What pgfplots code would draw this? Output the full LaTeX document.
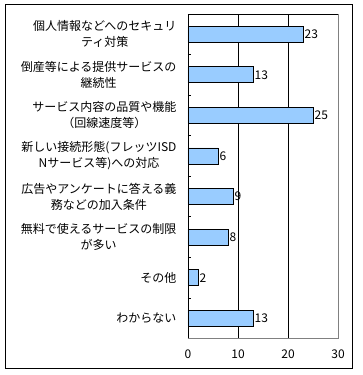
\documentclass[border=0pt]{standalone}
\usepackage{fontspec}
\setmainfont{Noto Sans CJK JP}
\usepackage{pgfplots}
\pgfplotsset{compat=1.18}
\definecolor{barblue}{HTML}{99CCFF}
\begin{document}
\begin{tikzpicture}
\useasboundingbox (0pt,0pt) rectangle (362pt,375pt);
\draw[line width=1pt] (5.5pt,6pt) rectangle (352pt,370pt);
\begin{axis}[
  at={(188pt,36.5pt)}, anchor=south west,
  scale only axis, width=150pt, height=324.5pt,
  xbar, bar width=16pt,
  xmin=0, xmax=30, ymin=-0.5, ymax=7.5, y dir=reverse,
  xtick={10,20},
  extra x ticks={0,30},
  extra x tick style={grid=none},
  xmajorgrids, grid style={black, line width=0.8pt},
  major x tick style={draw=none},
  ytick={0,...,7},
  major y tick style={draw=none},
  minor ytick={-0.5,0.5,...,7.5},
  minor y tick style={black, line width=0.8pt},
  minor tick length=3pt,
  tick align=inside,
  ytick pos=left, xtick pos=bottom,
  axis line style={gray, line width=0.8pt},
  /pgf/number format/assume math mode=true,
  xticklabel style={font=\fontsize{12}{13}\selectfont, yshift=-8pt},
  yticklabel style={font=\fontsize{12}{16}\selectfont, align=center, xshift=-8pt},
  yticklabels={
    {個人情報などへのセキュリ\\ティ対策},
    {倒産等による提供サービスの\\継続性},
    {サービス内容の品質や機能\\（回線速度等）},
    {新しい接続形態(フレッツISD\\Nサービス等)への対応},
    {広告やアンケートに答える義\\務などの加入条件},
    {無料で使えるサービスの制限\\が多い},
    {その他},
    {わからない}},
  nodes near coords,
  nodes near coords style={font=\fontsize{12}{13}\selectfont, inner sep=1.2pt, black},
]
\addplot[draw=black, line width=0.8pt, fill=barblue] coordinates {
  (23,0) (13,1) (25,2) (6,3) (9,4) (8,5) (2,6) (13,7)};
\end{axis}
\draw[black, line width=0.8pt] (188pt,36.5pt) -- (188pt,361pt) -- (338pt,361pt);
\end{tikzpicture}
\end{document}
